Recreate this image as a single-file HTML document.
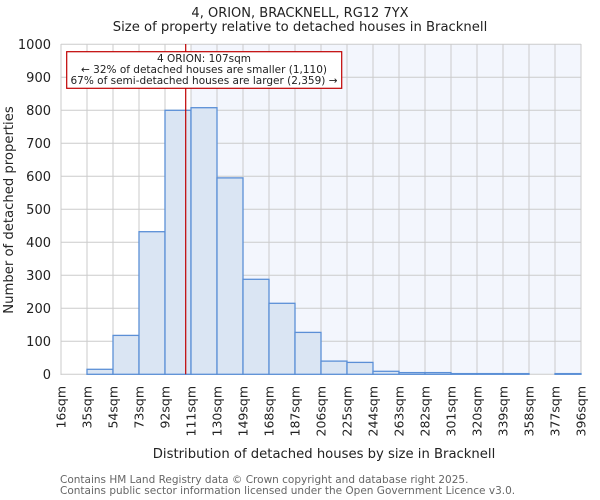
<!DOCTYPE html>
<html><head><meta charset="utf-8"><style>
body{margin:0;background:#fff}
svg{display:block;font-family:"DejaVu Sans","Liberation Sans",sans-serif}
</style></head><body>
<svg width="600" height="500" viewBox="0 0 600 500" xmlns="http://www.w3.org/2000/svg">
<text x="300" y="17" font-size="13" text-anchor="middle" fill="#222">4, ORION, BRACKNELL, RG12 7YX</text>
<text x="300" y="31" font-size="13.2" text-anchor="middle" fill="#222">Size of property relative to detached houses in Bracknell</text>
<rect x="191" y="44.3" width="390" height="330" fill="#f3f6fd"/>
<g stroke="#cbcbcb" stroke-width="1">
<line x1="61" y1="44.3" x2="581" y2="44.3"/><line x1="61" y1="77.3" x2="581" y2="77.3"/><line x1="61" y1="110.3" x2="581" y2="110.3"/><line x1="61" y1="143.3" x2="581" y2="143.3"/><line x1="61" y1="176.3" x2="581" y2="176.3"/><line x1="61" y1="209.3" x2="581" y2="209.3"/><line x1="61" y1="242.3" x2="581" y2="242.3"/><line x1="61" y1="275.3" x2="581" y2="275.3"/><line x1="61" y1="308.3" x2="581" y2="308.3"/><line x1="61" y1="341.3" x2="581" y2="341.3"/><line x1="61" y1="374.3" x2="581" y2="374.3"/>
<line x1="61" y1="44" x2="61" y2="375"/><line x1="87" y1="44" x2="87" y2="375"/><line x1="113" y1="44" x2="113" y2="375"/><line x1="139" y1="44" x2="139" y2="375"/><line x1="165" y1="44" x2="165" y2="375"/><line x1="191" y1="44" x2="191" y2="375"/><line x1="217" y1="44" x2="217" y2="375"/><line x1="243" y1="44" x2="243" y2="375"/><line x1="269" y1="44" x2="269" y2="375"/><line x1="295" y1="44" x2="295" y2="375"/><line x1="321" y1="44" x2="321" y2="375"/><line x1="347" y1="44" x2="347" y2="375"/><line x1="373" y1="44" x2="373" y2="375"/><line x1="399" y1="44" x2="399" y2="375"/><line x1="425" y1="44" x2="425" y2="375"/><line x1="451" y1="44" x2="451" y2="375"/><line x1="477" y1="44" x2="477" y2="375"/><line x1="503" y1="44" x2="503" y2="375"/><line x1="529" y1="44" x2="529" y2="375"/><line x1="555" y1="44" x2="555" y2="375"/><line x1="581" y1="44" x2="581" y2="375"/>
</g>
<g fill="#dae5f3" stroke="#5b8fd6" stroke-width="1.3">
<rect x="87" y="369.3" width="26" height="5"/>
<rect x="113" y="335.4" width="26" height="38.9"/>
<rect x="139" y="231.7" width="26" height="142.6"/>
<rect x="165" y="110.3" width="26" height="264"/>
<rect x="191" y="107.7" width="26" height="266.6"/>
<rect x="217" y="177.9" width="26" height="196.4"/>
<rect x="243" y="279.3" width="26" height="95"/>
<rect x="269" y="303.3" width="26" height="71"/>
<rect x="295" y="332.4" width="26" height="41.9"/>
<rect x="321" y="361.1" width="26" height="13.2"/>
<rect x="347" y="362.4" width="26" height="11.9"/>
<rect x="373" y="371.3" width="26" height="3"/>
<rect x="399" y="372.6" width="26" height="1.7"/>
<rect x="425" y="372.6" width="26" height="1.7"/>
<rect x="451" y="373.6" width="26" height="0.7"/>
<rect x="477" y="373.6" width="26" height="0.7"/>
<rect x="503" y="373.6" width="26" height="0.7"/>
<rect x="555" y="373.6" width="26" height="0.7"/>
</g>
<line x1="185.7" y1="44" x2="185.7" y2="374.3" stroke="#c00000" stroke-width="1.2"/>
<rect x="66.7" y="51.7" width="275" height="36.6" fill="#fff" stroke="#c00000" stroke-width="1.2"/>
<g font-size="10.5" text-anchor="middle" fill="#222">
<text x="204" y="62">4 ORION: 107sqm</text>
<text x="204" y="73">← 32% of detached houses are smaller (1,110)</text>
<text x="204" y="84">67% of semi-detached houses are larger (2,359) →</text>
</g>
<g font-size="13" text-anchor="end" fill="#222">
<text x="51" y="49">1000</text><text x="51" y="82">900</text><text x="51" y="115">800</text><text x="51" y="148">700</text><text x="51" y="181">600</text><text x="51" y="214">500</text><text x="51" y="247">400</text><text x="51" y="280">300</text><text x="51" y="313">200</text><text x="51" y="346">100</text><text x="51" y="379">0</text>
</g>
<g font-size="12.5" text-anchor="end" fill="#222">
<text transform="translate(65.5,386) rotate(-90)">16sqm</text>
<text transform="translate(91.5,386) rotate(-90)">35sqm</text>
<text transform="translate(117.5,386) rotate(-90)">54sqm</text>
<text transform="translate(143.5,386) rotate(-90)">73sqm</text>
<text transform="translate(169.5,386) rotate(-90)">92sqm</text>
<text transform="translate(195.5,386) rotate(-90)">111sqm</text>
<text transform="translate(221.5,386) rotate(-90)">130sqm</text>
<text transform="translate(247.5,386) rotate(-90)">149sqm</text>
<text transform="translate(273.5,386) rotate(-90)">168sqm</text>
<text transform="translate(299.5,386) rotate(-90)">187sqm</text>
<text transform="translate(325.5,386) rotate(-90)">206sqm</text>
<text transform="translate(351.5,386) rotate(-90)">225sqm</text>
<text transform="translate(377.5,386) rotate(-90)">244sqm</text>
<text transform="translate(403.5,386) rotate(-90)">263sqm</text>
<text transform="translate(429.5,386) rotate(-90)">282sqm</text>
<text transform="translate(455.5,386) rotate(-90)">301sqm</text>
<text transform="translate(481.5,386) rotate(-90)">320sqm</text>
<text transform="translate(507.5,386) rotate(-90)">339sqm</text>
<text transform="translate(533.5,386) rotate(-90)">358sqm</text>
<text transform="translate(559.5,386) rotate(-90)">377sqm</text>
<text transform="translate(585.5,386) rotate(-90)">396sqm</text>
</g>
<text x="324" y="458" font-size="13.2" text-anchor="middle" fill="#222">Distribution of detached houses by size in Bracknell</text>
<text transform="translate(13,210) rotate(-90)" font-size="13.2" text-anchor="middle" fill="#222">Number of detached properties</text>
<g font-size="10.5" fill="#666">
<text x="60" y="483">Contains HM Land Registry data © Crown copyright and database right 2025.</text>
<text x="60" y="494">Contains public sector information licensed under the Open Government Licence v3.0.</text>
</g>
</svg>
</body></html>
